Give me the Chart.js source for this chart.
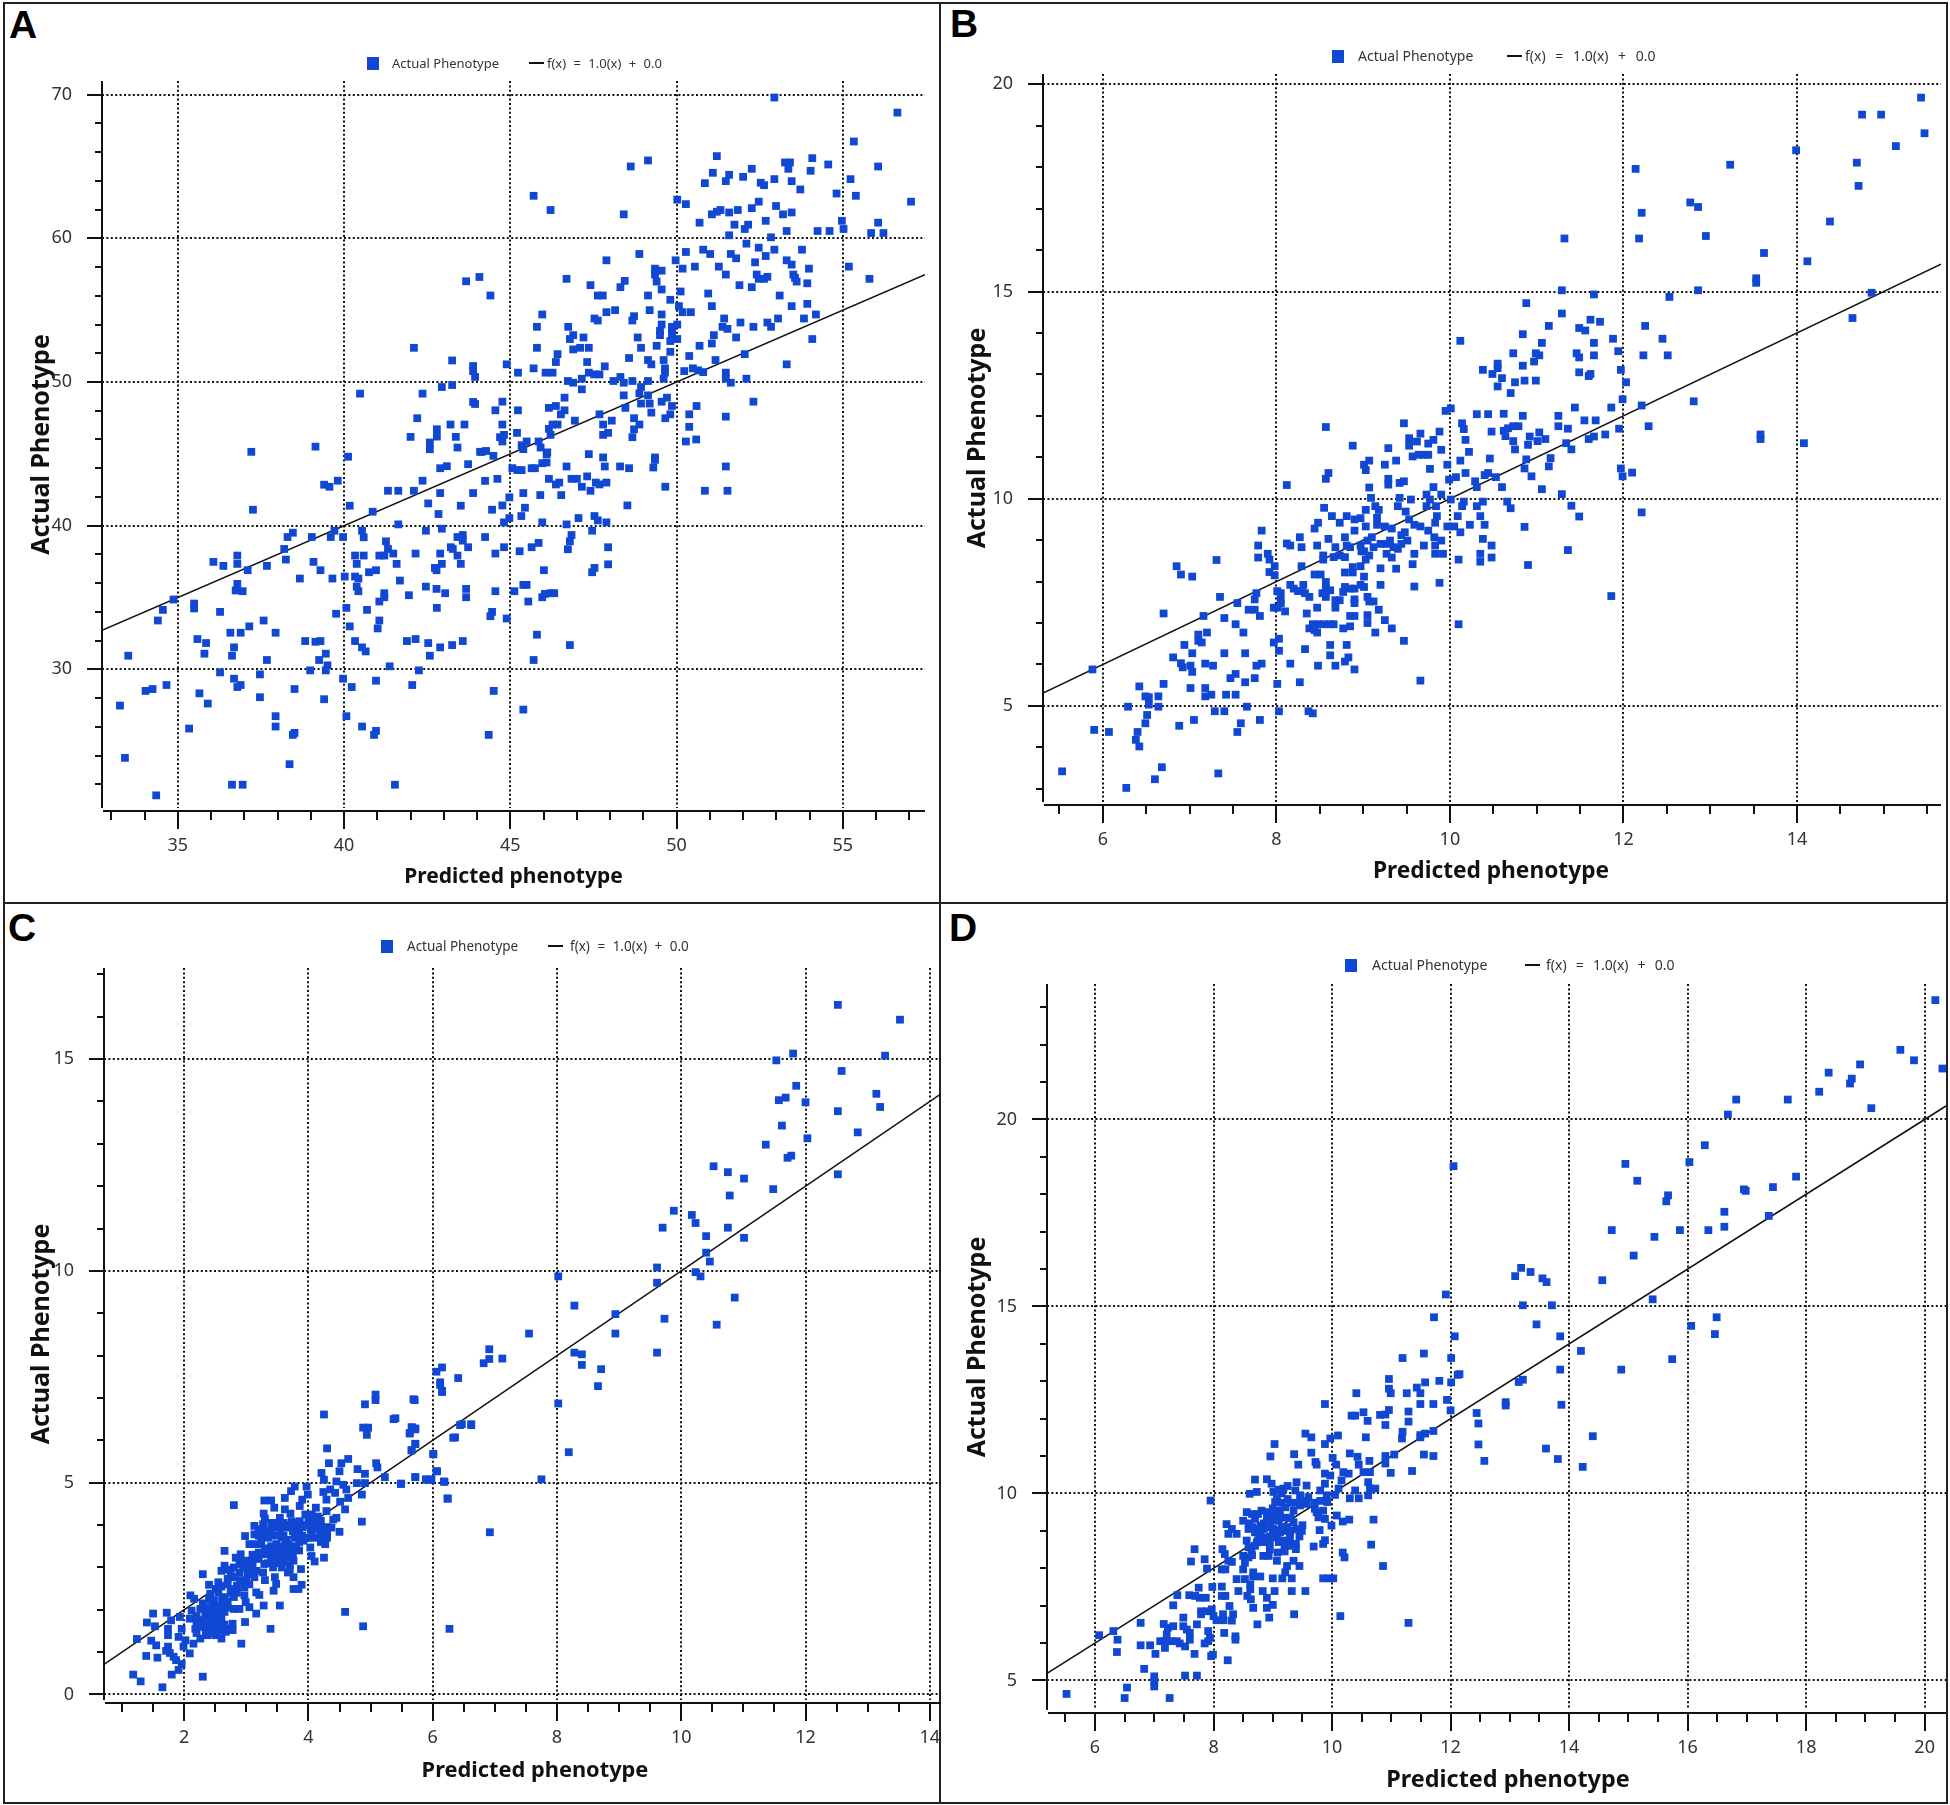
<!DOCTYPE html>
<html>
<head>
<meta charset="utf-8">
<title>Predicted vs actual phenotype</title>
<script src="https://cdn.jsdelivr.net/npm/chart.js@4"></script>
<style>
    body { margin: 0; background: #fff; width: 1950px; height: 1805px; position: relative; overflow: hidden; font-family: "Noto Sans", sans-serif; }
    canvas { position: absolute; }
    .rule { position: absolute; background: #222; }
    .letter { position: absolute; font: bold 39px "Liberation Sans", sans-serif; color: #000; line-height: 39px; }
    .lgText { position: absolute; font-size: 14px; line-height: 18px; color: #333; white-space: nowrap; }
    .lgBox { position: absolute; width: 12px; height: 13px; background: #1047d3; }
    .lgLine { position: absolute; height: 2px; background: #111; }
</style>
</head>
<body>
<div class="rule" style="left:3px;top:2px;width:1945px;height:2px"></div>
<div class="rule" style="left:3px;top:1802px;width:1945px;height:2px"></div>
<div class="rule" style="left:3px;top:2px;width:2px;height:1802px"></div>
<div class="rule" style="left:1946px;top:2px;width:2px;height:1802px"></div>
<div class="rule" style="left:939px;top:2px;width:2px;height:1802px"></div>
<div class="rule" style="left:3px;top:902px;width:1945px;height:2px"></div>
<div class="letter" style="left:9px;top:5px">A</div>
<div class="letter" style="left:950px;top:4px">B</div>
<div class="letter" style="left:8px;top:908px">C</div>
<div class="letter" style="left:949px;top:908px">D</div>

<script>
const legendName = 'Actual Phenotype';
const lineName = 'f(x) = 1.0(x) + 0.0';
const xTitle = 'Predicted phenotype';
const yTitle = 'Actual Phenotype';

// points: [predicted, actual]
const pointsA = [
[52.94,69.8],[56.64,68.75],[55.33,66.74],[51.21,65.72],[54.08,65.58],[53.26,65.28],[53.41,65.28],[53.36,64.84],[54.56,65.14],[56.06,65],[54.03,64.7],[51.09,64.56],[51.58,64.42],[52.26,64.84],[52,64.28],[51.48,63.98],[50.85,63.84],[52.94,64.12],[53.46,63.98],[55.23,64.12],[52.53,63.87],[52.63,63.7],[53.72,63.4],[54.81,63.12],[55.39,62.96],[57.05,62.55],[48.62,65],[49.14,65.42],[45.7,62.96],[46.21,61.97],[48.41,61.67],[50.02,62.69],[50.28,62.38],[52.47,62.55],[52.99,62.25],[53.2,61.67],[53.46,61.8],[52.26,62.1],[51.84,61.97],[51.58,61.8],[51.32,61.97],[51.21,61.85],[51.06,61.67],[50.69,61.09],[51.74,60.95],[52.15,60.95],[52.05,60.65],[52.68,61.22],[53.31,60.51],[54.24,60.51],[54.6,60.51],[54.97,61.22],[55.02,60.65],[56.06,61.09],[55.85,60.37],[56.22,60.37],[51.58,60.21],[52.84,60.07],[52.1,59.63],[52.47,59.35],[52.94,59.21],[53.77,59.21],[50.8,59.21],[51.01,58.91],[51.63,58.91],[51.79,58.61],[52.68,58.77],[50.28,59.05],[48.88,58.91],[47.89,58.47],[49.97,58.47],[53.31,58.47],[53.46,58.17],[52.36,58.33],[50.55,58.03],[50.18,57.89],[51.27,58.03],[49.35,57.89],[49.55,57.75],[49.35,57.48],[53.98,57.89],[55.18,58.03],[51.48,57.48],[53.51,57.48],[53.56,57.25],[52.41,57.48],[52.47,57.18],[52.63,57.18],[52.73,57.32],[55.8,57.18],[53.61,56.99],[53.93,56.87],[49.4,56.99],[46.69,57.18],[48.44,57.04],[48.31,56.6],[47.41,56.74],[51.89,56.74],[52.26,56.6],[49.55,56.44],[50.12,56.3],[50.95,56.16],[49.14,56.02],[47.63,56.02],[47.78,56.02],[53.1,56.02],[49.81,55.72],[50.07,55.28],[51.06,55.28],[53.46,55.28],[53.93,55.44],[49.19,55],[48.15,55],[47.89,54.86],[50.18,54.86],[50.43,54.86],[45.96,54.7],[49.55,54.7],[54.19,54.7],[48.72,54.58],[48.67,54.28],[47.53,54.42],[47.63,54.28],[51.43,54.42],[53.05,54.42],[53.83,54.42],[51.92,54.14],[52.73,54.14],[50.02,54],[49.55,54],[49.86,53.84],[52.84,53.84],[52.31,53.84],[45.8,53.84],[46.74,53.84],[51.38,53.84],[51.53,53.7],[49.5,53.56],[49.5,53.26],[49.86,53.56],[49.86,53.26],[46.89,53.26],[46.79,52.99],[51.12,53.26],[47.2,53.1],[48.83,53.1],[51.79,53.1],[54.08,52.99],[50.02,52.99],[49.81,52.85],[51.06,52.68],[49.4,52.52],[50.69,52.52],[45.8,52.38],[47.36,52.38],[47.1,52.38],[46.89,52.27],[48.93,52.38],[49.81,52.1],[46.42,51.94],[52.05,51.94],[50.38,51.81],[48.57,51.67],[46.37,51.39],[47.31,51.39],[49.14,51.53],[49.24,51.23],[49.61,51.53],[51.17,51.53],[44.89,51.23],[53.31,51.23],[47.84,51.09],[45.7,50.95],[49.65,50.95],[49.65,50.65],[50.23,50.76],[50.49,50.95],[50.65,50.81],[50.8,50.69],[45.23,50.65],[46.06,50.65],[46.27,50.65],[47.36,50.65],[47.52,50.53],[47.68,50.53],[51.48,50.65],[47.15,50.23],[46.73,50.07],[46.89,49.95],[48.31,50.35],[48.1,50.07],[48.41,49.95],[48.67,50.07],[49.14,50.07],[49.61,50.23],[51.48,50.23],[51.63,49.95],[52.1,50.23],[47.15,49.49],[48.93,49.65],[48.88,49.21],[49.14,49.07],[48.41,49.07],[46.63,48.91],[49.71,48.91],[49.55,48.63],[44.76,48.63],[52.31,48.63],[49.19,48.5],[48.93,48.5],[46.16,48.2],[46.37,48.33],[49.86,48.33],[50.6,48.33],[48.46,48.2],[44.55,48.03],[45.23,48.03],[46.63,48.03],[46.52,47.75],[49.24,47.87],[47.68,47.75],[49.81,47.75],[50.38,47.75],[51.48,47.59],[48.72,47.48],[49.66,47.48],[46.94,47.31],[48.05,47.31],[44.76,47.04],[46.16,46.74],[46.27,47.04],[46.42,47.04],[47.79,47.04],[48.88,47.04],[50.38,46.88],[48.72,46.71],[45.2,46.46],[47.94,46.46],[47.79,46.32],[44.81,46.32],[44.69,46.16],[46.21,46.32],[48.67,46.16],[50.59,46],[50.28,45.86],[45.49,45.86],[45.85,45.86],[44.76,45.86],[45.34,45.6],[45.39,45.33],[45.91,45.44],[44.27,45.2],[44.14,45.14],[46.11,45.1],[47.36,44.98],[44.49,44.86],[47.79,44.75],[49.35,44.75],
[46.09,44.98],[46.09,44.4],[49.35,44.58],[49.3,44.05],[47.84,44.12],[48.3,44.12],[48.57,44],[51.48,44.12],[46.69,44.12],[45.96,44.35],[45.64,44],[45.74,44],[45.06,44],[45.21,43.87],[45.34,43.87],[44.24,43.12],[44.61,43.26],[46.16,43.26],[46.47,43],[46.37,42.87],[46.84,43.26],[47,43.26],[47.31,43.43],[47.15,42.71],[47.41,42.43],[47.57,43],[47.68,42.87],[47.89,43],[49.66,42.71],[50.85,42.43],[51.53,42.43],[45.39,42.27],[45.9,42.13],[46.53,42.13],[44.97,41.97],[44.76,41.41],[44.45,41.11],[45.44,41.25],[45.33,40.67],[48.52,41.41],[44.97,40.53],[44.81,40.23],[45.96,40.23],[46.69,40.09],[47.05,40.53],[47.53,40.67],[47.63,40.37],[47.89,40.23],[47.46,39.65],[44.24,39.21],[46.84,39.35],[46.79,38.91],[46.73,38.36],[45.85,38.8],[45.64,38.5],[44.81,38.5],[45.28,38.22],[44.55,38.06],[47.94,38.5],[47.94,37.31],[46.01,36.9],[47.53,37.06],[47.46,36.76],[44.55,35.44],[45.12,35.44],[45.39,35.88],[45.49,35.88],[45.96,35.02],[46.04,35.25],[46.21,35.3],[46.32,35.3],[45.54,34.72],[44.45,34],[44.4,33.7],[44.89,33.54],[45.8,32.41],[46.79,31.69],[45.7,30.65],[44.5,28.5],[45.39,27.2],[44.35,25.44],
[37.21,45.14],[39.14,45.5],[40.12,44.8],[42.89,44],[43.09,44.14],[43.73,44.28],[39.81,43.13],[39.4,42.85],[39.56,42.71],[42.36,43.13],[41.32,42.43],[41.63,42.43],[42.1,42.43],[42.89,42.27],[43.88,42.27],[40.17,41.39],[37.26,41.11],[42.53,41.55],[43.51,41.39],[40.86,40.97],[42.84,40.81],[41.63,40.09],[42.46,39.65],[42.94,39.79],[39.71,39.65],[40.54,39.65],[40.59,39.19],[38.46,39.51],[38.3,39.21],[39.03,39.21],[39.6,39.21],[39.97,39.21],[43.41,39.21],[43.57,39.35],[43.57,38.96],[41.26,38.91],[41.32,38.38],[41.48,38.06],[43.21,38.5],[43.27,38.38],[43.73,38.5],[38.2,38.38],[38.25,37.64],[36.79,37.92],[36.79,37.34],[40.33,37.92],[40.59,37.92],[41.06,37.92],[41.21,37.92],[42.15,38.06],[42.89,38.06],[43.41,37.92],[43.51,37.34],[36.07,37.48],[36.37,37.2],[39.08,37.48],[37.68,37.2],[37.1,36.9],[39.29,36.9],[40.38,37.34],[41.58,37.34],[42.94,37.34],[42.73,37.06],[42.78,36.9],[40.75,36.76],[40.96,36.9],[38.67,36.32],[39.65,36.32],[40.02,36.46],[40.33,36.46],[40.43,36.32],[41.68,36.18],[36.79,35.95],[40.38,35.76],[40.43,35.44],[42.46,35.76],[42.78,35.6],[43.67,35.6],[43.67,35.02],[36.74,35.49],[36.95,35.44],[41.21,35.3],[41.21,35.02],[41.06,34.72],[41.95,35.16],[43.04,35.3],[34.87,34.86],[35.49,34.58],[35.49,34.24],[34.55,34.14],[40.07,34.28],[42.79,34.28],[40.69,34.14],[36.27,34],[39.76,33.87],[34.4,33.4],[41.06,33.4],[41.01,32.85],[37.58,33.4],[37.15,32.99],[40.17,32.99],[36.58,32.55],[36.89,32.55],[37.94,32.55],[35.59,32.11],[35.85,31.83],[38.83,31.97],[39.14,31.92],[39.29,31.97],[40.33,31.97],[40.54,31.53],[40.65,31.25],[41.89,31.97],[42.15,32.11],[42.53,31.83],[42.89,31.53],[43.25,31.69],[43.57,31.97],[36.69,31.53],[36.63,30.95],[35.8,31.09],[33.51,30.95],[39.45,31.09],[42.58,30.95],[37.68,30.65],[39.25,30.65],[39.5,30.28],[39.45,29.93],[41.37,30.21],[38.98,29.93],[42.25,29.93],[36.27,29.79],[37.47,29.65],[36.69,29.35],[39.97,29.35],[40.96,29.21],[36.79,28.77],[36.89,28.91],[34.66,28.91],[42.05,28.91],[40.23,28.77],[34.03,28.5],[34.24,28.63],[38.51,28.63],[35.65,28.33],[33.26,27.48],[35.9,27.62],[37.47,28.06],[39.4,27.92],[37.94,26.74],[37.94,26.02],[40.07,26.74],[35.34,25.88],[40.54,26.02],[38.46,25.44],[38.51,25.58],[40.96,25.72],[40.9,25.44],[33.41,23.84],[38.36,23.4],[36.63,21.97],[36.95,21.97],[41.53,21.97],[34.35,21.23],
[43.67,57.01],[44.07,57.31],[44.4,56.02],[42.1,52.38],[43.25,51.5],[43.88,51.11],[43.88,50.76],[43.94,50.35],[42.94,49.65],[43.25,49.79],[40.48,49.19],[42.36,49.19],[43.88,48.61],[43.94,48.47],[42.2,47.48],[43.2,47.04],[43.62,47.04],[42.79,46.71],[42.79,46.2],[42,46.18],[43.36,46.18],[42.58,45.79],[42.58,45.32],[43.41,45.44],[44.09,45.14]
];

const pointsB = [
[5.53,3.42],[6.27,3.02],[6.6,3.23],[6.68,3.52],[7.33,3.37],[5.9,4.42],[6.07,4.37],[6.4,4.37],[6.38,4.18],[6.42,4.02],[6.49,4.58],[6.51,4.78],[6.88,4.52],[7.05,4.66],[7.55,4.37],[7.59,4.58],[7.81,4.66],[6.29,4.98],[6.64,4.98],[6.53,5.03],[6.53,5.21],[6.49,5.23],[6.64,5.23],[6.42,5.47],[6.7,5.53],[7.01,5.43],[7.18,5.43],[7.18,5.23],[7.25,5.27],[7.42,5.27],[7.53,5.27],[7.66,4.98],[7.29,4.87],[7.4,4.87],[8.03,4.87],[8.37,4.87],[8.42,4.82],[8.01,5.53],[8.27,5.57],[9.66,5.61],[7.64,5.57],[7.75,5.67],[7.47,5.67],[7.53,5.77],[6.81,6.17],[6.9,6.03],[6.92,5.93],[7.01,5.97],[7.03,5.82],[7.18,6.02],[7.27,5.97],[6.94,6.47],[7.03,6.27],[7.4,6.27],[7.64,6.27],[7.77,5.97],[7.83,6.02],[8.16,6.02],[8.48,5.97],[8.68,5.97],[8.79,6.07],[8.83,6.17],[8.9,5.88],[8.62,6.22],[8.33,6.37],[8.62,6.47],[8.81,6.47],[8.03,6.33],[8.03,6.62],[7.97,6.53],[5.88,5.88],[7.1,6.72],[7.1,6.57],[7.14,6.53],[7.2,6.77],[7.62,6.77],[7.53,6.97],[7.4,7.12],[7.16,7.17],[6.7,7.23],[8.47,7.37],[8.35,7.23],[7.81,7.17],[7.68,7.32],[7.75,7.32],[8.1,7.28],[8.01,7.37],[8.05,7.55],[8.01,7.77],[8.05,7.72],[8.05,7.47],[7.97,7.37],[7.35,7.63],[7.55,7.48],[7.75,7.57],[7.77,7.72],[8.38,6.87],[8.42,6.97],[8.48,6.97],[8.55,6.97],[8.62,6.97],[8.66,6.97],[8.44,6.83],[8.47,6.77],[8.77,6.87],[8.85,6.92],[8.85,7.17],[8.9,7.17],[9.05,7.19],[9.05,7],[9.18,7.32],[9.25,7.07],[9.33,6.87],[9.14,6.77],[9.47,6.57],[10.1,6.97],[8.68,7.37],[8.68,7.55],[8.73,7.55],[8.77,7.75],[8.79,7.87],[8.85,7.83],[8.9,7.83],[8.9,7.57],[8.9,7.48],[9.05,7.63],[9.07,7.52],[9.12,7.52],[8.97,7.92],[9.01,7.87],[9.2,7.92],[9.59,7.88],[9.88,7.97],[8.16,7.92],[8.2,7.83],[8.25,7.77],[8.31,7.92],[8.29,7.77],[8.33,7.72],[8.38,7.63],[8.57,7.99],[8.57,7.83],[8.53,7.72],[8.62,7.79],[8.57,7.63],[8.44,8.17],[8.51,8.17],[8.79,8.22],[8.88,8.22],[8.88,8.35],[8.97,8.37],[9.01,8.12],[9.2,8.32],[9.38,8.31],[9.57,8.42],[10.1,8.53],[10.48,8.58],[10.35,8.67],[10.35,8.48],[7.9,8.67],[7.92,8.53],[7.98,8.37],[7.92,8.23],[7.98,8.15],[7.79,8.58],[7.79,8.87],[7.31,8.52],[6.85,8.37],[6.9,8.17],[7.03,8.12],[8.29,8.37],[7.83,9.23],[8.12,8.92],[8.16,8.87],[8.29,8.83],[8.27,9.07],[8.47,8.87],[8.44,9.28],[8.48,9.42],[8.6,9.03],[8.55,9.78],[8.64,9.58],[8.73,9.42],[8.81,9.58],[8.9,9.5],[8.97,9.53],[9.03,9.73],[9.03,9.33],[8.9,9.23],[8.12,10.33],[8.57,10.48],[8.6,10.62],[8.57,11.73],[8.88,11.28],[9.01,10.82],[9.07,10.92],[9.03,10.69],[9.07,10.27],[9.25,10.82],[9.29,11.22],[9.38,10.92],[9.47,11.82],[9.29,10.48],[9.29,10.34],[9.42,10.38],[9.47,10.42],[9.53,11.46],[9.53,11.28],[9.62,11.38],[9.66,11.57],[9.57,11.02],[9.64,11.06],[9.7,11.06],[9.75,11.06],[9.77,10.72],[9.75,11.33],[9.81,11.42],[9.88,11.62],[9.9,11.18],[9.97,10.82],[9.95,12.12],[10.01,12.18],[10.31,12.04],[10.44,12.04],[10.14,11.82],[10.16,11.68],[10.18,11.42],[10.22,11.13],[10.12,10.92],[10.18,10.62],[10.46,10.97],[10.48,11.62],[9.99,10.46],[10.07,10.52],[10.29,10.42],[10.31,10.28],[10.4,10.57],[10.44,10.62],[10.53,10.52],[9.81,10.28],[9.09,10.02],[9.14,9.82],[9.18,9.73],[9.16,9.54],[9.16,9.37],[9.25,9.33],[9.33,9.28],[9.42,10.02],[9.4,9.82],[9.49,9.69],[9.55,9.98],[9.73,10.1],[9.77,9.98],[9.9,10.1],[9.73,9.82],[9.84,9.82],[10.01,9.98],[10.16,9.93],[10.14,9.82],[10.31,9.82],[10.38,9.93],[10.35,9.58],[10.09,9.58],[10.23,9.37],[10.4,9.37],[10.38,9.03],[10.48,8.87],[10.12,9.19],[9.97,9.33],[10.05,9.33],[9.85,9.58],[9.83,9.42],[9.75,9.23],[9.66,9.33],[9.59,9.37],[9.53,9.5],[9.48,9.19],[9.44,9.12],[9.51,8.99],[9.7,8.87],[9.59,8.67],[9.82,9.07],[9.9,8.99],[9.83,8.87],[9.83,8.67],[9.92,8.67],[8.79,9.07],[8.81,8.87],[8.85,8.83],[8.97,8.87],[9.01,8.73],[9.07,8.63],[9.05,8.99],[9.12,8.83],[9.2,8.91],[9.27,8.91],[9.31,8.99],[9.35,8.83],[9.4,8.79],[9.27,8.67],[9.33,8.58],[9.44,8.91],[9.1,9.07],[8.68,8.83],[8.73,8.63],[8.66,8.59],[8.79,8.59],[8.54,8.63],[8.54,8.53],[9.03,8.53],[8.98,8.73],
[15.43,19.68],[14.75,19.27],[14.97,19.27],[15.47,18.82],[15.14,18.51],[13.99,18.41],[14.69,18.11],[14.71,17.55],[13.23,18.06],[12.14,17.96],[12.77,17.15],[12.86,17.04],[12.21,16.9],[14.38,16.69],[12.18,16.28],[11.32,16.28],[12.95,16.34],[13.62,15.93],[14.12,15.73],[13.53,15.32],[13.53,15.21],[11.29,15.03],[11.66,14.93],[12.86,15.03],[12.53,14.87],[14.86,14.97],[14.64,14.36],[10.88,14.72],[11.29,14.47],[11.14,14.17],[11.62,14.32],[11.73,14.27],[11.49,14.12],[11.56,14.06],[12.25,14.17],[10.84,13.97],[10.12,13.81],[11.06,13.76],[11.66,13.76],[11.88,13.86],[12.45,13.86],[10.73,13.51],[10.99,13.51],[11.03,13.46],[10.97,13.31],[11.46,13.51],[11.49,13.41],[11.66,13.46],[11.94,13.56],[12.23,13.46],[12.51,13.46],[10.55,13.26],[10.55,13.15],[10.84,13.21],[10.38,13.11],[10.49,13.01],[10.6,12.91],[10.55,12.71],[10.75,12.81],[10.86,12.85],[10.99,12.85],[10.7,12.55],[11.49,13.05],[11.62,13.01],[11.6,12.96],[11.97,13.11],[12.03,12.81],[11.99,12.4],[12.81,12.35],[11.44,12.2],[12.21,12.25],[11.86,12.2],[10.62,12.05],[10.84,12],[11.25,12],[11.55,11.89],[11.68,11.89],[10.79,11.75],[10.73,11.75],[10.67,11.7],[10.62,11.64],[10.64,11.51],[11.25,11.75],[11.36,11.69],[11.95,11.69],[12.29,11.75],[11.03,11.6],[10.92,11.5],[11.01,11.39],[11.1,11.44],[10.73,11.39],[10.75,11.19],[10.9,11.3],[11.79,11.55],[11.66,11.5],[11.6,11.44],[11.34,11.34],[11.4,11.19],[13.58,11.55],[13.58,11.44],[14.08,11.34],[10.88,10.95],[10.86,10.73],[11.16,10.98],[11.14,10.78],[11.97,10.73],[11.99,10.54],[12.1,10.63],[10.94,10.54],[10.6,10.28],[11.06,10.23],[11.29,10.11],[10.66,9.93],[10.7,9.77],[11.4,9.83],[11.49,9.57],[12.21,9.67],[10.86,9.32],[11.36,8.76],[10.9,8.4],[11.86,7.65]
];

const pointsC = [
[1.18,0.47],[1.3,0.31],[1.65,0.17],[1.8,0.47],[1.91,0.58],[1.96,0.72],[1.87,0.81],[1.83,0.89],[1.77,0.98],[1.74,1.13],[1.71,1.03],[2.3,0.42],[1.39,0.91],[1.57,0.87],[2.09,0.97],[1.47,1.27],[1.55,1.16],[1.24,1.31],[1.4,1.7],[1.5,1.91],[1.53,1.61],[1.72,1.93],[1.79,1.75],[1.74,1.55],[1.74,1.4],[1.93,1.83],[1.96,1.55],[1.91,1.36],[2.02,1.28],[1.99,1.13],[2.15,1.2],[2.09,1.79],[2.1,2.34],[2.16,2.26],[2.12,1.98],[2.26,2.02],[2.34,1.91],[2.26,1.75],[2.18,1.55],[2.26,1.32],[2.38,1.4],[2.51,1.4],[2.6,1.32],[2.67,1.48],[2.78,1.52],[2.78,1.67],[2.92,1.2],[2.98,1.71],[3.39,1.55],[2.34,1.59],[2.42,1.55],[2.55,1.67],[2.45,1.83],[2.55,1.91],[2.58,2.06],[2.45,2.06],[2.37,2.06],[2.48,2.22],[2.61,2.22],[2.42,2.38],[2.51,2.49],[2.4,2.59],[2.55,2.65],[2.3,2.84],[2.65,3.04],[2.6,2.92],[2.65,3.39],[2.7,2.73],[2.8,2.77],[2.75,2.49],[2.85,2.57],[2.97,2.53],[2.8,2.3],[2.97,2.34],[2.99,2.18],[2.8,2.02],[2.89,2.02],[3.05,2.06],[3.16,1.91],[3.28,2.1],[3.54,2.1],[3.16,2.41],[3.21,2.35],[3.44,2.45],[3.48,2.61],[3.46,2.77],[3.3,2.7],[3.13,2.77],[3.02,2.84],[2.89,2.88],[2.8,3],[2.83,3.23],[2.91,3.31],[2.99,3.16],[2.89,3.08],[3.16,2.92],[3.27,2.88],[3.29,3.08],[3.43,3],[3.57,3],[3.67,2.88],[3.76,2.77],[3.76,2.49],[3.89,2.59],[3.84,2.49],[3.88,2.96],[3.76,3.16],[3.67,3.23],[3.57,3.12],[3.48,3.23],[3.4,3.27],[3.73,3.35],[3.59,3.35],[3.29,3.31],[3.24,3.55],[3.13,3.55],[3.05,3.55],[2.98,3.74],[3.13,3.98],[3.13,3.78],[3.24,3.7],[3.27,4.02],[3.28,4.27],[3.29,4.58],[3.4,4.58],[3.45,4.41],[2.8,4.47],[3.54,4.17],[3.48,3.94],[3.57,3.7],[3.67,3.55],[3.48,3.55],[3.64,3.94],[3.73,4.09],[3.62,4.37],[3.71,4.27],[3.62,4.64],[3.72,4.8],[3.78,4.91],[3.86,4.45],[3.9,4.6],[3.99,4.72],[3.97,4.91],[3.86,4.09],[3.78,3.94],[3.78,3.7],[3.92,3.63],[4.03,3.94],[4,3.7],[4.05,4.25],[4.12,4.41],[4.16,4.02],[4.24,3.94],[4.19,3.78],[4.27,3.66],[4.27,3.55],[4.03,3.47],[4.05,3.27],[4.1,3.14],[4.25,3.23],[4.5,3.84],[4.45,4.17],[4.4,4.13],[4.29,4.33],[4.37,3.94],[4.59,4.37],[4.86,4.08],[4.24,4.78],[4.29,4.6],[4.35,4.84],[4.45,5.03],[4.56,4.95],[4.61,4.84],[4.64,4.64],[4.51,4.55],[4.43,4.76],[4.86,4.72],[4.21,5.23],[4.25,5.07],[4.78,4.99],[4.91,4.99],[4.79,5.32],[4.91,5.21],[5.09,5.46],[5.11,5.36],[5.23,5.13],[5.49,4.98],[5.72,5.13],[5.9,5.07],[5.97,5.07],[6.07,5.27],[6.19,5.02],[6.24,4.63],[6.01,5.67],[5.66,5.76],[5.72,5.91],[6.33,6.06],[6.44,6.36],[6.62,6.36],[5.63,6.16],[5.67,6.3],[5.72,6.26],[5.37,6.5],[4.94,6.13],[4.88,6.3],[4.96,6.3],[4.3,5.81],[4.33,5.46],[4.53,5.46],[4.5,5.27],[4.64,5.56],[4.25,6.61],[4.91,6.85],[5.08,6.95],[5.08,7.08],[5.71,6.95],[6.12,7.31],[6.15,7.14],[4.59,1.95],[4.88,1.61],[6.27,1.55],[6.92,3.83],
[2.3,1.6],[2.4,1.7],[2.5,1.75],[2.6,1.5],[2.2,1.45],[2.35,1.85],[2.45,1.9],[2.55,1.55],[2.65,1.65],[2.3,2.15],[2.4,2.25],[2.55,2.4],[2.65,2.3],[2.7,2.05],[2.7,2.6],[2.6,2.55],[2.75,2.85],[2.7,2.95],[2.9,3.2],[3,3],[3.05,2.9],[3.1,3],[3.2,3.2],[3.35,3.1],[3.35,3.4],[3.45,3.35],[3.5,3.4],[3.5,3.1],[3.6,3.15],[3.65,3.35],[3.7,3.05],[3.75,3.3],[3.7,2.95],[3.2,3.75],[3.2,3.9],[3.35,3.7],[3.4,3.9],[3.55,3.9],[3.6,3.75],[3.65,3.65],[3.75,3.85],[3.85,3.85],[3.9,3.75],[3.95,4],[4.05,3.8],[4.1,3.9],[4.15,4.2],[4.1,3.7],[4.2,4.1],[4.3,3.8],[4.2,3.6],[3.95,4.25],[3.85,3.6],
[2.45,1.45],[2.5,1.6],[2.6,1.65],[2.7,1.55],[2.35,1.45],[2.45,1.65],[2.3,1.75],[2.2,1.85],[2.2,1.7],[2.6,1.8],[2.65,1.95],[2.7,2.2],[2.6,2.1],[2.5,2.05],[2.75,2.4],[2.85,2.4],[2.9,2.7],[3,2.7],[3.05,2.6],[3.1,2.85],[2.95,3],[3.1,3.15],[3.1,3.3],[3.2,3.35],[3.3,3.45],[3.4,3.5],[3.45,3.15],[3.55,3.25],[3.6,3.5],[3.7,3.5],[3.8,3.5],[3.85,3.4],[3.3,3.85],[3.4,3.75],[3.5,3.75],[3.5,4.05],[3.6,4.05],[3.7,4],[3.8,4.05],[3.9,3.95],[4,4.1],[4.05,4.05],[4.1,4.1],[4.2,3.85],[3.4,4.05],[3.3,4.15],[4.3,3.7],[4.3,3.95],
[12.52,16.28],[13.52,15.93],[11.8,15.13],[11.53,14.97],[13.28,15.08],[12.58,14.72],[11.85,14.37],[11.68,14.09],[11.57,14.03],[12,13.98],[13.14,14.18],[12.52,13.77],[13.2,13.87],[11.62,13.43],[12.84,13.27],[12.03,13.13],[11.36,12.98],[11.77,12.72],[11.71,12.67],[10.52,12.47],[10.75,12.33],[11.01,12.18],[12.52,12.28],[11.48,11.93],[10.78,11.78],[9.88,11.42],[10.17,11.32],[10.23,11.13],[9.7,11.02],[10.75,11.02],[10.4,10.82],[11.01,10.78],[10.4,10.43],[10.46,10.22],[9.61,10.08],[10.23,9.97],[10.31,9.87],[8.02,9.87],[9.61,9.72],[10.86,9.37],[8.28,9.18],[8.94,8.98],[9.73,8.87],[10.57,8.73],[7.55,8.52],[8.94,8.52],[6.91,8.15],[6.91,7.92],[6.82,7.82],[7.12,7.93],[8.28,8.07],[8.4,8.03],[9.61,8.07],[8.4,7.78],[8.71,7.68],[6.15,7.72],[6.06,7.62],[6.12,7.37],[6.15,7.17],[6.41,7.47],[8.66,7.28],[8.02,6.87],[5.69,6.97],[5.4,6.52],[6.47,6.38],[6.62,6.38],[5.66,6.31],[5.72,6.28],[5.63,6.17],[6.36,6.07],[5.72,5.92],[5.66,5.77],[6.01,5.68],[8.19,5.72],[6.06,5.27],[5.72,5.13],[5.89,5.08],[5.98,5.08],[6.18,5.03],[5.49,4.97],[7.75,5.08],[6.24,4.62]
];

const pointsD = [
[5.52,4.64],[6.54,4.81],[6.5,4.53],[7.26,4.53],[7,5.11],[7,4.97],[7,4.84],[6.83,5.31],[7.52,5.13],[7.72,5.13],[8.24,5.54],[7.96,5.65],[7.99,5.69],[7.68,5.71],[7.02,5.71],[6.37,5.76],[6.38,6.09],[6.31,6.32],[6.07,6.21],[6.77,5.94],[6.93,5.94],[6.77,6.54],[7.1,6.05],[7.18,5.87],[7.18,6.05],[7.21,6.23],[7.29,6.05],[7.38,6.05],[7.16,6.51],[7.23,6.41],[7.32,6.45],[7.49,6.68],[7.49,6.45],[7.55,6.36],[7.72,6.5],[7.6,6.27],[7.6,6.09],[7.52,5.91],[7.43,5.99],[7.85,5.99],[7.91,6.05],[7.91,6.32],[7.94,6.14],[8.37,6.18],[8.37,6.09],[8.18,6.27],[7.32,7.01],[7.39,7.28],[7.59,7.28],[7.69,7.26],[7.75,7.48],[7.77,7.21],[7.87,7.21],[7.79,6.85],[7.79,6.77],[7.89,6.85],[7.97,6.9],[8,6.72],[8.05,6.61],[8.17,6.61],[8.16,6.77],[8.33,6.77],[8.31,6.6],[8.27,6.99],[7.98,7.5],[8.14,7.51],[8.14,7.26],[8.2,7.26],[8.42,7.39],[8.14,7.97],[8.2,7.97],[8.31,8.17],[7.89,7.99],[7.85,8.24],[7.62,8.18],[7.68,8.51],[8.15,8.51],[8.19,8.38],[8.25,8.2],[7.95,9.81],[8.74,6.5],[8.67,6.94],[8.63,7.17],[8.57,7.26],[8.9,6.94],[9,7.02],[8.94,6.68],[8.9,7.21],[8.83,7.39],[9.03,7.39],[9.36,6.77],[9.32,7.39],[9.55,7.39],[10.14,6.72],[11.29,6.54],[9.85,7.73],[9.94,7.73],[10.02,7.73],[10.86,8.06],[9.32,7.73],[9.16,7.73],[9,7.73],[8.79,7.78],[8.67,7.78],[8.62,7.57],[8.53,7.71],[8.39,7.71],[8.5,7.97],[8.53,8.15],[8.67,7.89],[8.62,7.44],[9.24,8.06],[9.35,8.2],[9.45,8.06],[9.21,7.89],[9.07,8.2],[9.08,8.42],[8.84,8.33],[8.93,8.33],[8.5,8.33],[8.59,8.29],[8.64,8.47],[8.59,8.56],[10.18,8.42],[10.21,8.29],[9.69,8.58],[9.85,8.65],[9.88,8.75],[10.66,8.63],[9.39,8.51],[9.39,8.65],[9.29,8.69],[9.18,8.74],[8.56,8.74],[8.73,8.69],[8.9,8.83],[9.07,8.83],[8.25,8.92],[8.31,9.05],[8.39,8.92],[8.22,9.18],[8.56,9.5],[8.5,9.27],[8.59,9.05],[8.7,8.96],[8.79,8.87],[8.7,9.32],[8.81,9.54],[8.9,9.36],[8.98,9.27],[8.79,9.14],[9.01,9.05],[9.12,8.96],[9.24,9],[9.29,8.87],[9.4,9.05],[9.49,9],[9.35,9.23],[9.1,9.27],[9.12,9.54],[9.04,9.77],[9.21,9.63],[9.35,9.54],[9.46,9.68],[9.57,9.72],[9.74,9.5],[9.77,9.36],[9.88,9.32],[9.79,9.02],[9.99,9.14],[10.08,9.41],[10.18,9.25],[10.29,9.3],[10.7,9.3],[9.85,9.54],[9.92,9.77],[9.91,9.95],[9.8,10.08],[9.71,9.59],[9.6,9.9],[9.46,9.95],[9.57,10.21],[9.4,10.3],[9.38,10.08],[9.18,10.13],[9.01,10.04],[8.98,10.26],[8.9,10.38],[9.07,9.86],[8.7,10.37],[8.61,9.99],[8.73,10.04],[9.03,11.32],[8.96,10.99],[9.36,11.05],[9.43,10.77],[9.55,11.6],[9.65,11.5],[9.88,11.32],[9.97,11.47],[10.1,11.55],[9.88,12.39],[10.41,12.68],[9.65,11.09],[9.72,10.84],[9.74,10.77],[10.01,10.95],[10.07,10.77],[9.88,10.53],[9.97,10.48],[9.88,10.26],[10.19,10.57],[10.28,10.53],[10.16,10.35],[10.11,10.13],[10.05,9.96],[10.3,11.07],[10.43,10.98],[10.45,10.77],[10.57,11.5],[10.33,12.08],[10.39,12.08],[10.53,12.17],[10.6,11.94],[10.63,10.87],[10.53,10.57],[10.64,10.57],[10.61,10.3],[10.64,10.13],[10.73,10.13],[10.61,9.95],[10.39,10.08],[10.3,9.87],[10.45,9.87],[10.9,11],[10.9,10.8],[11.05,11.04],[10.99,10.55],[11.35,10.6],[11.55,11.04],[11.71,11],[11.49,11.5],[11.49,11.56],[11.57,11.6],[11.71,11.67],[11.18,11.47],[11.19,11.65],[11.29,11.92],[11.29,12.19],[10.9,11.83],[10.81,12.1],[10.9,12.11],[10.96,12.23],[10.96,13.06],[10.96,12.8],[10.99,12.68],[11.19,13.62],[11.55,13.74],[11.26,12.68],[11.43,12.83],[11.57,12.97],[11.49,12.68],[11.49,12.39],[11.71,12.39],[11.81,13.01],[12.01,12.97],[12.01,13.62],[12.12,13.17],[11.94,12.5],[12,12.22],
[8.6,9.2],[8.65,9.1],[8.75,9.05],[8.85,9.05],[8.85,9.2],[8.95,9.1],[8.65,9.45],[8.75,9.45],[8.9,9.5],[9,9.45],[9,9.6],[9.1,9.4],[9.15,9.1],[9.25,9.1],[9.3,9],[9.2,9.35],[9.3,9.35],[8.75,8.75],[8.85,8.7],[8.95,8.7],[9,8.9],[9.1,8.7],[9.2,8.6],[9.3,8.6],[9.45,8.85],[9.5,9.15],[9.15,9.75],[9.25,9.85],[9.3,9.75],[9.4,9.75],[9.15,10],[9.1,10.1],[9.25,10.2],[9.5,9.8],[9.7,9.75],[9.8,9.8],[8.65,8.35],[8.7,8.6],[8.95,8.5],[9.2,8.45],
[20.18,23.19],[19.59,21.86],[19.82,21.58],[20.3,21.36],[18.91,21.47],[18.38,21.25],[18.77,21.09],[18.74,20.96],[18.22,20.74],[17.69,20.53],[19.1,20.3],[16.82,20.53],[16.68,20.13],[16.29,19.31],[16.03,18.86],[14.95,18.81],[15.15,18.36],[12.05,18.75],[15.67,17.97],[15.64,17.81],[16.95,18.13],[16.98,18.09],[17.44,18.19],[17.83,18.47],[16.62,17.53],[17.37,17.42],[16.62,17.13],[14.72,17.04],[15.44,16.86],[15.87,17.04],[16.35,17.04],[15.09,16.36],[13.19,16.03],[13.09,15.81],[13.35,15.92],[13.55,15.75],[13.62,15.65],[14.56,15.7],[11.92,15.32],[13.22,15.03],[13.71,15.03],[15.41,15.19],[11.72,14.71],[16.49,14.71],[16.06,14.48],[16.46,14.26],[13.45,14.52],[12.07,14.2],[13.85,14.2],[14.2,13.81],[15.74,13.59],[14.88,13.31],[12.15,13.19],[13.85,13.31],[13.22,13.04],[13.15,12.98],[12.93,12.44],[12.93,12.35],[13.87,12.37],[12.44,12.15],[12.47,11.87],[14.4,11.53],[12.47,11.31],[13.61,11.2],[13.81,10.92],[12.57,10.87],[14.23,10.71]
];

// f(x) = x reference line, drawn across each x axis
const fitLineA = [32.72, 57.47];
const fitLineB = [5.31, 15.66];
const fitLineC = [0.71, 14.18];
const fitLineD = [5.19, 20.36];

// axis limits per panel
const xRangeA = [32.72, 57.47], yRangeA = [20.35, 70.95];
const xRangeB = [5.31, 15.66], yRangeB = [2.68, 20.25];
const xRangeC = [0.71, 14.18], yRangeC = [-0.13, 17.15];
const xRangeD = [5.19, 20.36], yRangeD = [4.21, 23.62];

const blue = '#1047d3';
const tickFont = '"Liberation Sans Narrow", "Noto Sans", sans-serif';

function isMajor(v, step) {
    return Math.abs(v / step - Math.round(v / step)) < 1e-6;
}

// axis lines, long/short tick marks and the x title, which sits off centre in C and D
const axisMarks = {
    id: 'axisMarks',
    afterDraw(chart) {
        const ctx = chart.ctx, a = chart.chartArea;
        const xs = chart.scales.x, ys = chart.scales.y;
        const c = chart.options.plugins.axisMarks;
        const axisY = a.bottom + 3;
        ctx.save();
        ctx.strokeStyle = '#111';
        ctx.lineWidth = 2;
        ctx.beginPath();
        ctx.moveTo(a.left, a.top);
        ctx.lineTo(a.left, a.bottom);
        ctx.moveTo(a.left + 1, axisY);
        ctx.lineTo(a.right, axisY);
        xs.ticks.forEach(t => {
            const px = Math.round(xs.getPixelForValue(t.value));
            ctx.moveTo(px, axisY);
            ctx.lineTo(px, axisY + (isMajor(t.value, c.xMajor) ? 18 : 9));
        });
        ys.ticks.forEach(t => {
            const py = Math.round(ys.getPixelForValue(t.value));
            ctx.moveTo(a.left, py);
            ctx.lineTo(a.left - (isMajor(t.value, c.yMajor) ? 15 : 7), py);
        });
        ctx.stroke();
        ctx.fillStyle = '#111';
        ctx.font = 'bold ' + c.titleSize + 'px "Noto Sans"';
        ctx.textAlign = 'center';
        ctx.textBaseline = 'middle';
        ctx.fillText(xTitle, c.titleAt[0], c.titleAt[1]);
        ctx.restore();
    }
};

function makePanel(p) {
    const cv = document.createElement('canvas');
    cv.width = p.box[2];
    cv.height = p.box[3];
    cv.style.left = p.box[0] + 'px';
    cv.style.top = p.box[1] + 'px';
    document.body.appendChild(cv);

    const axisOpts = (range, minor, major, fit, tickPad, title) => ({
        type: 'linear',
        min: range[0],
        max: range[1],
        afterBuildTicks: s => { s.ticks = s.ticks.filter(t => t.value >= range[0] && t.value <= range[1]); },
        afterFit: fit,
        border: { display: false, dash: [2, 2.4] },
        grid: {
            drawTicks: false,
            lineWidth: 2,
            color: c => (c.tick && isMajor(c.tick.value, major)) ? '#111' : 'rgba(0,0,0,0)'
        },
        ticks: {
            stepSize: minor,
            autoSkip: false,
            includeBounds: false,
            maxRotation: 0,
            padding: tickPad,
            color: '#333',
            font: { family: tickFont, size: 18 },
            callback: v => isMajor(v, major) ? String(v) : ''
        },
        title: title
    });

    new Chart(cv, {
        data: {
            datasets: [
                {
                    type: 'scatter',
                    label: legendName,
                    data: p.points.map(d => ({ x: d[0], y: d[1] })),
                    pointStyle: 'rect',
                    pointRadius: 5.5,
                    pointBorderWidth: 0,
                    backgroundColor: blue,
                    clip: false,
                    order: 1
                },
                {
                    type: 'line',
                    label: lineName,
                    data: p.line.map(v => ({ x: v, y: v })),
                    borderColor: '#111',
                    borderWidth: 1.6,
                    pointRadius: 0,
                    order: 2
                }
            ]
        },
        options: {
            responsive: false,
            animation: false,
            devicePixelRatio: 1,
            layout: {
                autoPadding: false,
                padding: { left: 0, top: p.plot[1] - p.box[1], right: p.box[0] + p.box[2] - p.plot[2], bottom: 0 }
            },
            plugins: {
                legend: { display: false },
                tooltip: { enabled: false },
                axisMarks: {
                    xMajor: p.xMajor,
                    yMajor: p.yMajor,
                    titleSize: p.xTitleSize,
                    titleAt: [p.xTitleAt[0] - p.box[0], p.xTitleAt[1] - p.box[1]]
                }
            },
            scales: {
                x: axisOpts(p.xRange, p.xMinor, p.xMajor, s => {
                    s.height = p.box[1] + p.box[3] - p.plot[3];
                    s.paddingLeft = 0;
                    s.paddingRight = 0;
                }, 27, { display: false }),
                y: axisOpts(p.yRange, p.yMinor, p.yMajor, s => {
                    s.width = p.plot[0] - p.box[0];
                    s.paddingTop = 0;
                    s.paddingBottom = 0;
                }, 30, {
                    display: true,
                    text: yTitle,
                    color: '#111',
                    font: { family: '"Noto Sans"', weight: 'bold', size: 25 },
                    padding: { top: 22, bottom: 0 }
                })
            }
        },
        plugins: [axisMarks]
    });

    // legend strip above the plot
    const lg = p.legend;
    const add = (cls, css, txt) => {
        const el = document.createElement('div');
        el.className = cls;
        el.style.cssText = css;
        if (txt) el.textContent = txt;
        document.body.appendChild(el);
    };
    add('lgBox', `left:${lg.box}px;top:${lg.y - 6}px`);
    add('lgText', `left:${lg.text1}px;top:${lg.y - 9}px;font-size:${lg.size}px`, legendName);
    add('lgLine', `left:${lg.line}px;top:${lg.y - 1}px;width:15px`);
    add('lgText', `left:${lg.text2}px;top:${lg.y - 9}px;font-size:${lg.size}px;word-spacing:${lg.gap}px`, lineName);
}

makePanel({
    box: [5, 4, 934, 898], plot: [102, 81, 925, 808],
    points: pointsA, line: fitLineA, xRange: xRangeA, yRange: yRangeA,
    xMinor: 1, xMajor: 5, yMinor: 2, yMajor: 10,
    xTitleSize: 21, xTitleAt: [513.5, 877.5],
    legend: { box: 367, text1: 392, line: 529, text2: 547, y: 63, size: 13, gap: 4 }
});
makePanel({
    box: [941, 4, 1005, 898], plot: [1043, 74, 1941, 802],
    points: pointsB, line: fitLineB, xRange: xRangeB, yRange: yRangeB,
    xMinor: 0.5, xMajor: 2, yMinor: 1, yMajor: 5,
    xTitleSize: 22.7, xTitleAt: [1491, 871.5],
    legend: { box: 1332, text1: 1358, line: 1507, text2: 1525, y: 56, size: 14, gap: 6 }
});
makePanel({
    box: [5, 904, 938, 898], plot: [104, 968, 941, 1700],
    points: pointsC, line: fitLineC, xRange: xRangeC, yRange: yRangeC,
    xMinor: 0.5, xMajor: 2, yMinor: 1, yMajor: 5,
    xTitleSize: 21.8, xTitleAt: [535, 1770.5],
    legend: { box: 381, text1: 407, line: 548, text2: 570, y: 946, size: 13.5, gap: 4 }
});
makePanel({
    box: [941, 904, 1005, 898], plot: [1047, 984, 1946, 1710],
    points: pointsD, line: fitLineD, xRange: xRangeD, yRange: yRangeD,
    xMinor: 0.5, xMajor: 2, yMinor: 1, yMajor: 5,
    xTitleSize: 23.4, xTitleAt: [1508, 1780.5],
    legend: { box: 1345, text1: 1372, line: 1525, text2: 1546, y: 965, size: 14, gap: 5.5 }
});
</script>
</body>
</html>
